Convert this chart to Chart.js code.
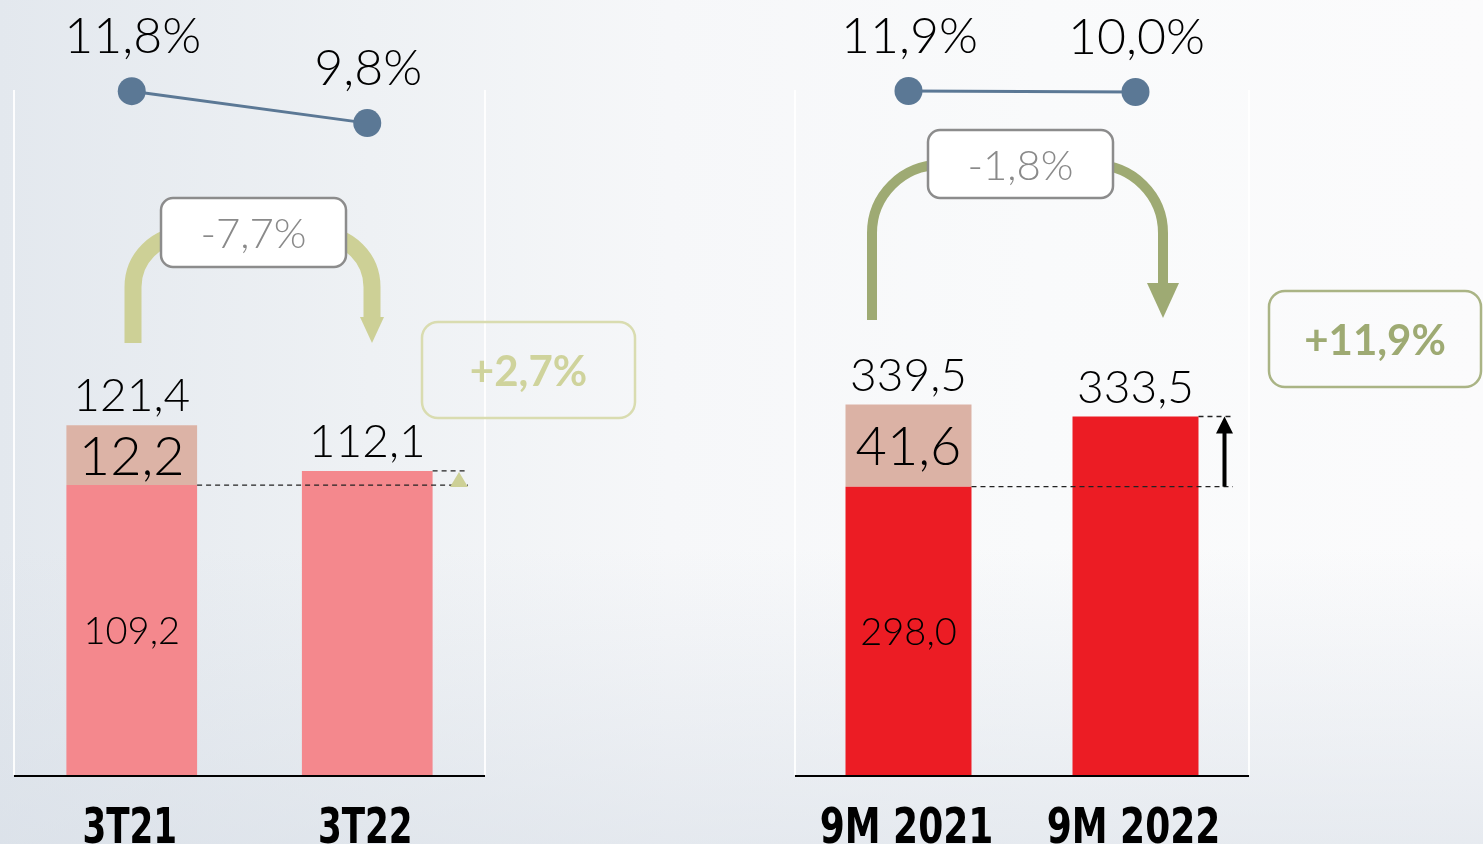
<!doctype html>
<html lang="es">
  <head>
    <meta charset="utf-8">
    <script src="https://cdn.jsdelivr.net/npm/chart.js"></script>
    <style>
      body {
        margin: 0;
        width: 1483px;
        height: 844px;
        overflow: hidden;
        background:
          linear-gradient(to top, rgba(214, 221, 230, 0.55), rgba(214, 221, 230, 0) 35%),
          linear-gradient(to right, #e3e8ee 0%, #eef1f4 25%, #f6f7f9 45%, #f9fafb 70%, #fbfbfc 100%);
      }
      canvas {
        position: absolute;
        left: 0;
        top: 0;
      }
    </style>
  </head>
  <body>
    <canvas id="chartQuarter" width="1483" height="844"></canvas>
    <canvas id="chartYtd" width="1483" height="844"></canvas>
    <script>
      // 3T (quarter) data
      const qLabels = ['3T21', '3T22'];
      const qBase = [109.2, 112.1];
      const qExtra = [12.2, null];
      const qTotals = [121.4, 112.1];
      const qMargin = [11.8, 9.8];
      const qMarginChange = '-7,7%';
      const qGrowth = '+2,7%';

      // 9M (year to date) data
      const ytdLabels = ['9M 2021', '9M 2022'];
      const ytdBase = [298.0, 333.5];
      const ytdExtra = [41.6, null];
      const ytdTotals = [339.5, 333.5];
      const ytdMargin = [11.9, 10.0];
      const ytdMarginChange = '-1,8%';
      const ytdGrowth = '+11,9%';

      const numFont = 'Lato, "Open Sans", sans-serif';
      const catFont = '"DejaVu Sans Condensed", "DejaVu Sans", sans-serif';
      const lineColor = '#5b7895';

      function fmt(v) {
        return v.toFixed(1).replace('.', ',');
      }

      function drawText(ctx, txt, x, y, font, color, baseline, squeeze) {
        ctx.save();
        ctx.font = font;
        ctx.fillStyle = color;
        ctx.textAlign = 'center';
        ctx.textBaseline = baseline || 'alphabetic';
        ctx.translate(x, y);
        if (squeeze) ctx.scale(squeeze, 1);
        ctx.fillText(txt, 0, 0);
        ctx.restore();
      }

      function drawBox(ctx, b, txt, font, textColor) {
        ctx.save();
        ctx.beginPath();
        ctx.roundRect(b.x, b.y, b.w, b.h, b.r);
        if (b.fill) {
          ctx.fillStyle = b.fill;
          ctx.fill();
        }
        ctx.lineWidth = b.lw;
        ctx.strokeStyle = b.stroke;
        ctx.stroke();
        ctx.restore();
        drawText(ctx, txt, b.x + b.w / 2, b.y + b.h / 2 + 2, font, textColor, 'middle');
      }

      // curved arrow going over the top, from the first bar to the second
      function drawBend(ctx, d) {
        ctx.save();
        ctx.strokeStyle = d.color;
        ctx.fillStyle = d.color;
        ctx.lineWidth = d.width;
        ctx.beginPath();
        ctx.moveTo(d.left, d.bottom);
        ctx.lineTo(d.left, d.arcY);
        ctx.arc(d.left + d.r, d.arcY, d.r, Math.PI, 1.5 * Math.PI);
        ctx.lineTo(d.right - d.r, d.arcY - d.r);
        ctx.arc(d.right - d.r, d.arcY, d.r, 1.5 * Math.PI, 2 * Math.PI);
        ctx.lineTo(d.right, d.headBase + 1);
        ctx.stroke();
        ctx.beginPath();
        ctx.moveTo(d.right - d.headHalf, d.headBase);
        ctx.lineTo(d.right + d.headHalf, d.headBase);
        ctx.lineTo(d.right, d.tip);
        ctx.closePath();
        ctx.fill();
        ctx.restore();
      }

      function dashed(ctx, x1, x2, y) {
        ctx.save();
        ctx.strokeStyle = '#222';
        ctx.lineWidth = 1.3;
        ctx.setLineDash([5, 4]);
        ctx.beginPath();
        ctx.moveTo(x1, y);
        ctx.lineTo(x2, y);
        ctx.stroke();
        ctx.restore();
      }

      const decoPlugin = {
        id: 'deco',
        afterDatasetsDraw(chart, args, o) {
          const ctx = chart.ctx;
          const area = chart.chartArea;
          const y = chart.scales.y;
          const bars = chart.getDatasetMeta(0).data;
          const points = chart.getDatasetMeta(2).data;

          // faint panel edges
          ctx.save();
          ctx.strokeStyle = 'rgba(255,255,255,0.9)';
          ctx.lineWidth = 2;
          ctx.beginPath();
          ctx.moveTo(area.left, 90);
          ctx.lineTo(area.left, area.bottom);
          ctx.moveTo(area.right, 90);
          ctx.lineTo(area.right, area.bottom);
          ctx.stroke();
          ctx.restore();

          // baseline
          ctx.save();
          ctx.strokeStyle = '#000';
          ctx.lineWidth = 2;
          ctx.beginPath();
          ctx.moveTo(area.left, area.bottom + 1);
          ctx.lineTo(area.right, area.bottom + 1);
          ctx.stroke();
          ctx.restore();

          // comparison guides
          const yBase = y.getPixelForValue(o.base[0]);
          const yNew = y.getPixelForValue(o.totals[1]);
          dashed(ctx, bars[0].x + bars[0].width / 2, o.guideEnd, yBase);
          dashed(ctx, bars[1].x + bars[1].width / 2, o.guideEnd, yNew);
          o.marker(ctx, yBase, yNew);

          // value labels
          bars.forEach((bar, i) => {
            const top = y.getPixelForValue(o.totals[i]);
            drawText(ctx, fmt(o.totals[i]), bar.x, top - 14, '300 46px ' + numFont, '#000');
            if (o.extra[i] != null) {
              const segTop = y.getPixelForValue(o.base[i] + o.extra[i]);
              const segBottom = y.getPixelForValue(o.base[i]);
              drawText(ctx, fmt(o.extra[i]), bar.x, (segTop + segBottom) / 2 + 2, '300 54px ' + numFont, '#000', 'middle');
              drawText(ctx, fmt(o.base[i]), bar.x, (segBottom + area.bottom) / 2 + 2, '300 38px ' + numFont, '#000', 'middle');
            }
            drawText(ctx, o.labels[i], bar.x - 2, 843, 'bold 50px ' + catFont, '#000', 'alphabetic', o.labelSqueeze);
          });

          points.forEach((pt, i) => {
            drawText(ctx, fmt(o.margin[i]) + '%', pt.x + 1, pt.y - 38, '300 50px ' + numFont, '#000');
          });
        },
        afterDraw(chart, args, o) {
          const ctx = chart.ctx;
          drawBend(ctx, o.bend);
          drawBox(ctx, o.changeBox, o.changeText, '300 42px ' + numFont, '#8a8a8a');
          drawBox(ctx, o.growthBox, o.growthText, 'bold 42px ' + numFont, o.growthColor);
        }
      };

      function makeChart(id, cfg) {
        const canvas = document.getElementById(id);
        return new Chart(canvas, {
          type: 'bar',
          data: {
            labels: cfg.labels,
            datasets: [
              {
                data: cfg.base,
                backgroundColor: cfg.baseColor,
                stack: 's',
                order: 2
              },
              {
                data: cfg.extra,
                backgroundColor: cfg.extraColor,
                stack: 's',
                order: 2
              },
              {
                type: 'line',
                data: cfg.margin,
                yAxisID: 'y2',
                borderColor: lineColor,
                borderWidth: 3,
                pointRadius: 14,
                pointBackgroundColor: lineColor,
                pointBorderWidth: 0,
                clip: false,
                order: 1
              }
            ]
          },
          options: {
            responsive: false,
            animation: false,
            events: [],
            layout: {
              padding: cfg.padding
            },
            plugins: {
              legend: {
                display: false
              },
              tooltip: {
                enabled: false
              },
              deco: cfg.deco
            },
            datasets: {
              bar: {
                barPercentage: 0.555,
                categoryPercentage: 1
              }
            },
            scales: {
              x: {
                display: false,
                stacked: true
              },
              y: {
                display: false,
                stacked: true,
                min: cfg.yMin,
                max: cfg.yMax
              },
              y2: {
                display: false,
                min: cfg.y2Min,
                max: cfg.y2Max
              }
            }
          },
          plugins: [decoPlugin]
        });
      }

      makeChart('chartQuarter', {
        labels: qLabels,
        base: qBase,
        extra: qExtra,
        margin: qMargin,
        baseColor: '#f4888d',
        extraColor: '#dcb3a6',
        padding: { left: 12, right: 998, top: 60, bottom: 69 },
        yMin: 50, yMax: 196,
        y2Min: -31, y2Max: 13.75,
        deco: {
          labels: qLabels,
          base: qBase,
          extra: qExtra,
          totals: qTotals,
          margin: qMargin,
          labelSqueeze: 0.76,
          guideEnd: 468,
          marker(ctx, yBase, yNew) {
            ctx.save();
            ctx.fillStyle = '#cdd096';
            ctx.beginPath();
            ctx.moveTo(450, yBase + 2);
            ctx.lineTo(468, yBase + 2);
            ctx.lineTo(459, yNew + 1);
            ctx.closePath();
            ctx.fill();
            ctx.restore();
          },
          bend: { color: '#cdd096', width: 17, left: 133, right: 372, bottom: 343, arcY: 287, r: 52, headBase: 317, tip: 343, headHalf: 12 },
          changeBox: { x: 161, y: 198, w: 185, h: 69, r: 12, lw: 2.5, stroke: '#8c8c8c', fill: '#ffffff' },
          changeText: qMarginChange,
          growthBox: { x: 422, y: 322, w: 213, h: 96, r: 16, lw: 2.5, stroke: '#d9dcb0', fill: null },
          growthText: qGrowth,
          growthColor: '#cfd39c'
        }
      });

      makeChart('chartYtd', {
        labels: ytdLabels,
        base: ytdBase,
        extra: ytdExtra,
        margin: ytdMargin,
        baseColor: '#ec1c24',
        extraColor: '#dbb2a5',
        padding: { left: 795, right: 234, top: 60, bottom: 69 },
        yMin: 152, yMax: 514,
        y2Min: -1288, y2Max: 70.8,
        deco: {
          labels: ytdLabels,
          base: ytdBase,
          extra: ytdExtra,
          totals: ytdTotals,
          margin: ytdMargin,
          labelSqueeze: 0.8,
          guideEnd: 1233,
          marker(ctx, yBase, yNew) {
            ctx.save();
            ctx.fillStyle = '#000';
            ctx.strokeStyle = '#000';
            ctx.lineWidth = 4;
            ctx.beginPath();
            ctx.moveTo(1224.5, yBase);
            ctx.lineTo(1224.5, yNew + 16);
            ctx.stroke();
            ctx.beginPath();
            ctx.moveTo(1216, yNew + 17);
            ctx.lineTo(1233, yNew + 17);
            ctx.lineTo(1224.5, yNew);
            ctx.closePath();
            ctx.fill();
            ctx.restore();
          },
          bend: { color: '#9eaa73', width: 10, left: 872, right: 1163, bottom: 320, arcY: 233, r: 68, headBase: 283, tip: 318, headHalf: 16 },
          changeBox: { x: 928, y: 130, w: 185, h: 68, r: 12, lw: 2.5, stroke: '#8c8c8c', fill: '#ffffff' },
          changeText: ytdMarginChange,
          growthBox: { x: 1269, y: 291, w: 212, h: 96, r: 16, lw: 2.5, stroke: '#aab485', fill: null },
          growthText: ytdGrowth,
          growthColor: '#9eaa73'
        }
      });
    </script>
  </body>
</html>
